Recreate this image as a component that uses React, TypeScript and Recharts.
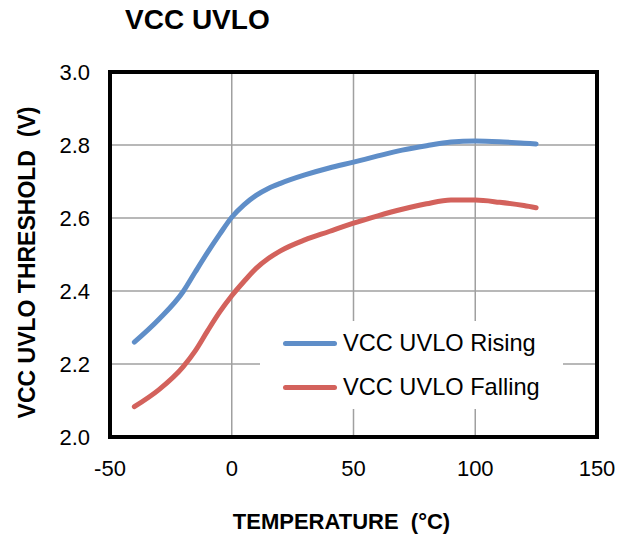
// VCC UVLO threshold vs temperature, rising and falling curves.
import { CartesianGrid, Line, LineChart, ReferenceArea, XAxis, YAxis } from "recharts";

const temps = [-40, -30, -20, -15, -10, -5, 0, 5, 10, 15, 20, 30, 40, 50, 60, 70, 80, 90, 100, 110, 120, 125];
const rising = [2.26, 2.322, 2.398, 2.452, 2.505, 2.555, 2.602, 2.636, 2.662, 2.681, 2.695, 2.718, 2.737, 2.753, 2.77, 2.786, 2.798, 2.808, 2.811, 2.809, 2.805, 2.803];
const falling = [2.083, 2.129, 2.192, 2.236, 2.29, 2.342, 2.387, 2.426, 2.462, 2.489, 2.51, 2.54, 2.563, 2.586, 2.606, 2.624, 2.639, 2.649, 2.649, 2.643, 2.634, 2.628];
const xTicks = [-50, 0, 50, 100, 150];
const yTicks = [2.0, 2.2, 2.4, 2.6, 2.8, 3.0];
const seriesNames = ["VCC UVLO Rising", "VCC UVLO Falling"];

const BLUE = "#5f8ec8";
const RED = "#d3625c";
const FONT = "'Liberation Sans', Arial, sans-serif";
const SP = "\u00a0\u00a0";

const data = temps.map((t, i) => ({ t, rising: rising[i], falling: falling[i] }));

function LegendBox() {
  const colors = [BLUE, RED];
  return (
    <div style={{ position: "absolute", left: 260, top: 321, width: 303, height: 88, background: "#fff", fontFamily: FONT, fontSize: 23.6, color: "#000" }}>
      {seriesNames.map((name, i) => (
        <div key={name} style={{ display: "flex", alignItems: "center", height: 44 }}>
          <span style={{ display: "inline-block", width: 54, height: 5, marginLeft: 23, marginRight: 6, background: colors[i], borderRadius: 3 }} />
          <span>{name}</span>
        </div>
      ))}
    </div>
  );
}

function YTitle({ viewBox }: any) {
  const x = viewBox.x - 23;
  const y = viewBox.y + viewBox.height / 2 + 8;
  return (
    <text x={x} y={y} transform={`rotate(-90 ${x} ${y})`} textAnchor="middle" dominantBaseline="central" fill="#000" fontSize={23} fontWeight={700} fontFamily={FONT}>
      {`VCC UVLO THRESHOLD${SP}(V)`}
    </text>
  );
}

function XTitle({ viewBox }: any) {
  const x = viewBox.x + viewBox.width / 2 - 12;
  const y = viewBox.y + viewBox.height + 62;
  return (
    <text x={x} y={y} textAnchor="middle" fill="#000" fontSize={22} fontWeight={700} fontFamily={FONT}>
      {`TEMPERATURE${SP}(°C)`}
    </text>
  );
}

export default function App() {
  return (
    <div style={{ position: "absolute", left: 0, top: 0, width: 619, height: 538, background: "#fff", fontFamily: FONT }}>
      <div style={{ position: "absolute", left: 125, top: 6, fontSize: 28, lineHeight: 1, fontWeight: 700, whiteSpace: "pre" }}>VCC UVLO</div>
      <LineChart width={619} height={538} data={data} margin={{ top: 72, right: 22, left: 50, bottom: 71 }}>
        <CartesianGrid stroke="#a0a0a0" strokeWidth={1.5} />
        <XAxis
          dataKey="t"
          type="number"
          domain={[-50, 150]}
          ticks={xTicks}
          axisLine={false}
          tickLine={false}
          height={30}
          tickMargin={17}
          tick={{ fill: "#000", fontSize: 22, fontFamily: FONT }}
          label={{ content: XTitle }}
        />
        <YAxis
          type="number"
          domain={[2.0, 3.0]}
          ticks={yTicks}
          tickFormatter={(v) => Number(v).toFixed(1)}
          axisLine={false}
          tickLine={false}
          width={60}
          tickMargin={14}
          tick={{ fill: "#000", fontSize: 22, fontFamily: FONT }}
          label={{ content: YTitle }}
        />
        <Line dataKey="rising" name={seriesNames[0]} type="monotone" stroke={BLUE} strokeWidth={5} dot={false} isAnimationActive={false} strokeLinecap="round" />
        <Line dataKey="falling" name={seriesNames[1]} type="monotone" stroke={RED} strokeWidth={5} dot={false} isAnimationActive={false} strokeLinecap="round" />
        <ReferenceArea x1={-50} x2={150} y1={2.0} y2={3.0} fill="none" stroke="#000" strokeWidth={4} ifOverflow="visible" />
      </LineChart>
      <LegendBox />
    </div>
  );
}
